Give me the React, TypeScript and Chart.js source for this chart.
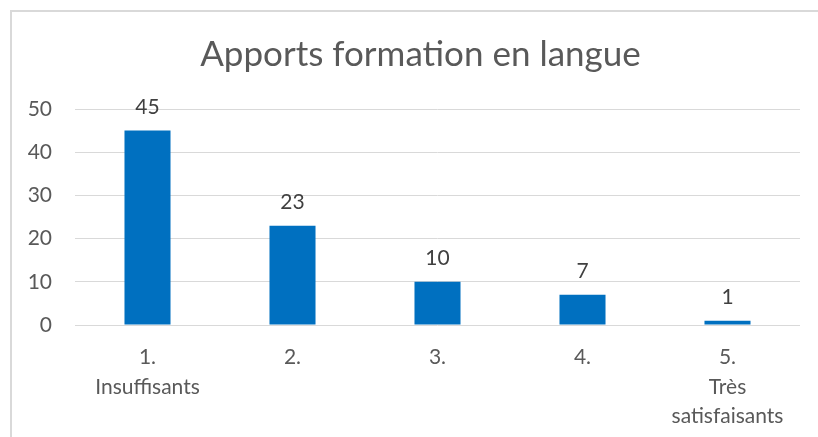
import React, { useEffect, useRef } from "react";
import { Chart, registerables } from "chart.js";

Chart.register(...registerables);

const categories: string[][] = [["1.", "Insuffisants"], ["2."], ["3."], ["4."], ["5.", "Très", "satisfaisants"]];
const values: number[] = [45, 23, 10, 7, 1];
const titleText = "Apports formation en langue";
const yMin = 0;
const yMax = 50;
const yStep = 10;

const FONT = "Lato, 'Open Sans', sans-serif";

const framePlugin = {
  id: "frame",
  beforeDraw(chart: any) {
    const ctx = chart.ctx;
    ctx.save();
    ctx.strokeStyle = "#d9d9d9";
    ctx.lineWidth = 2;
    ctx.beginPath();
    ctx.moveTo(11, chart.height + 5);
    ctx.lineTo(11, 11);
    ctx.lineTo(chart.width + 5, 11);
    ctx.stroke();
    // title centred in the chart frame
    ctx.fillStyle = "#595959";
    ctx.font = `35px ${FONT}`;
    ctx.textAlign = "center";
    ctx.textBaseline = "middle";
    ctx.fillText(titleText, (chart.chartArea.left + chart.chartArea.right) / 2 - 17, 55);
    ctx.restore();
  },
};

const valueLabels = {
  id: "valueLabels",
  afterDatasetsDraw(chart: any) {
    const ctx = chart.ctx;
    const meta = chart.getDatasetMeta(0);
    ctx.save();
    ctx.fillStyle = "#404040";
    ctx.font = `21px ${FONT}`;
    ctx.textAlign = "center";
    ctx.textBaseline = "alphabetic";
    meta.data.forEach((bar: any, i: number) => {
      ctx.fillText(String(values[i]), bar.x, bar.y - 17);
    });
    ctx.restore();
  },
};

export default function App() {
  const ref = useRef<HTMLCanvasElement>(null);
  useEffect(() => {
    if (!ref.current) return;
    const chart = new Chart(ref.current, {
      type: "bar",
      data: {
        labels: categories,
        datasets: [
          {
            data: values,
            backgroundColor: "#0070C0",
            borderWidth: 0,
            barPercentage: 0.635,
            categoryPercentage: 0.5,
          },
        ],
      },
      options: {
        animation: false,
        responsive: true,
        maintainAspectRatio: false,
        layout: { padding: { top: 109, left: 0, right: 18, bottom: 0 } },
        plugins: {
          legend: { display: false },
          tooltip: { enabled: false },
          title: { display: false },
        },
        scales: {
          x: {
            grid: { display: false, drawTicks: false },
            border: { display: false },
            ticks: {
              color: "#595959",
              font: { family: FONT, size: 21, lineHeight: 1.4 },
              padding: 18,
              maxRotation: 0,
              autoSkip: false,
            },
            afterFit(scale: any) {
              scale.height = 112;
            },
          },
          y: {
            min: yMin,
            max: yMax,
            grid: { color: "#d9d9d9", drawTicks: false, lineWidth: 1 },
            border: { display: false },
            ticks: {
              stepSize: yStep,
              color: "#595959",
              font: { family: FONT, size: 21 },
              padding: 23,
            },
            afterFit(scale: any) {
              scale.width = 75;
            },
          },
        },
      },
      plugins: [framePlugin, valueLabels],
    });
    return () => chart.destroy();
  }, []);
  return (
    <div style={{ position: "absolute", left: 0, top: 0, width: 818, height: 437 }}>
      <canvas ref={ref} />
    </div>
  );
}
